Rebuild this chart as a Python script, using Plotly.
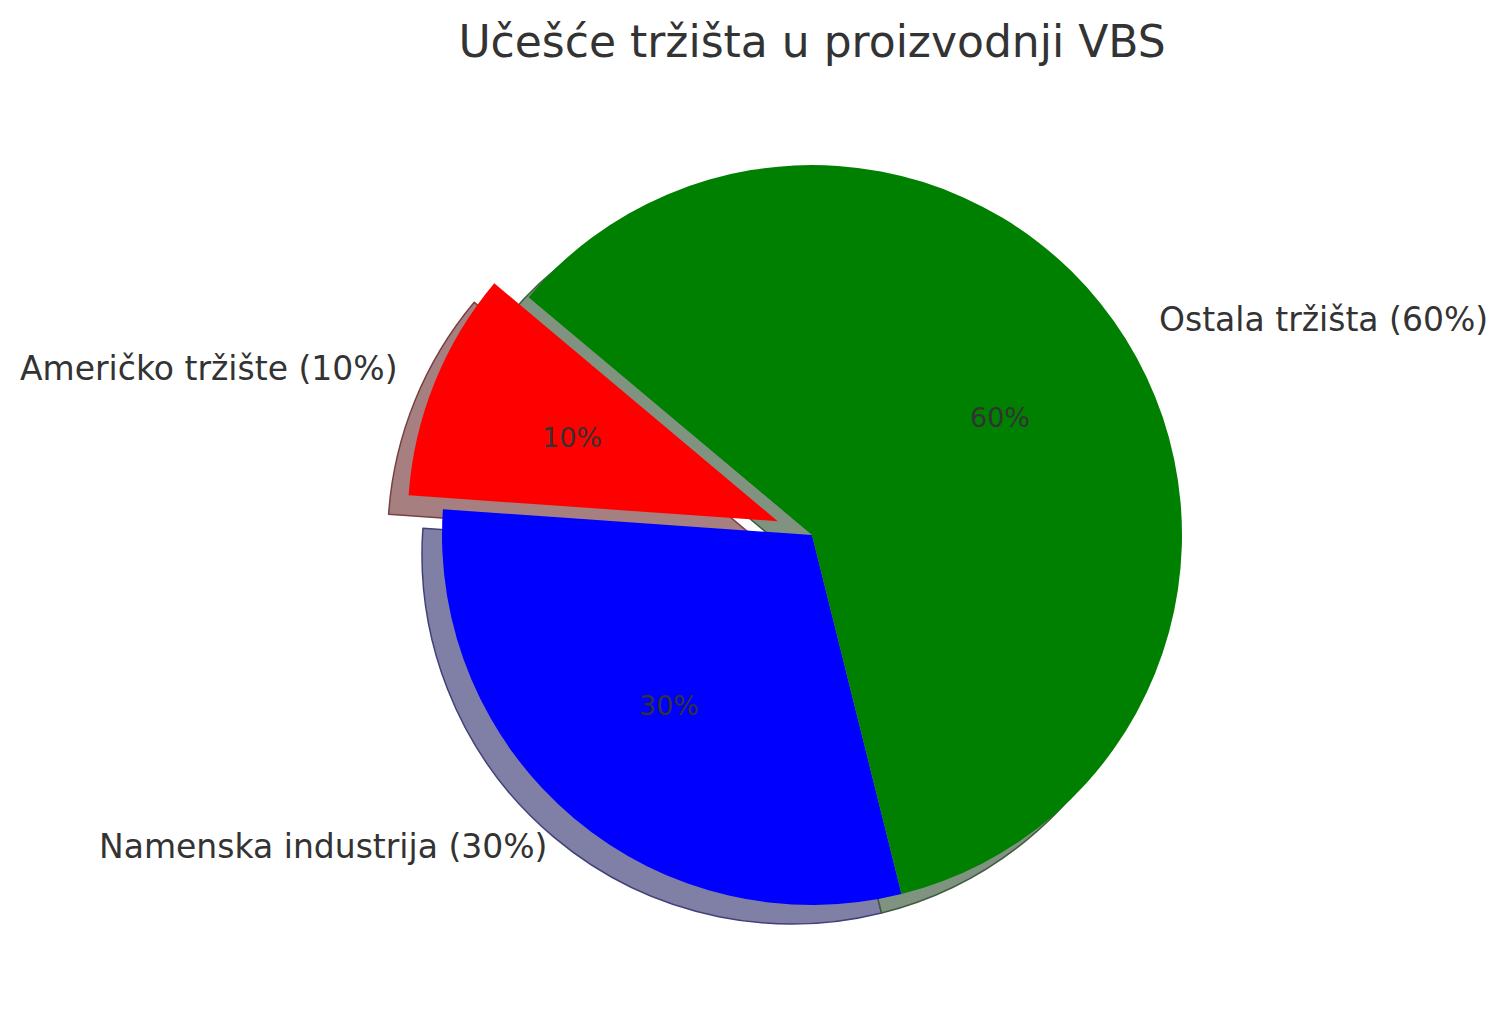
import math
import plotly.graph_objects as go

# data
labels = ["Američko tržište", "Namenska industrija", "Ostala tržišta"]
values = [10, 30, 60]
colors = ["red", "blue", "green"]
shadow_colors = ["#a68080", "#8080a6", "#809380"]
shadow_edges = ["#7a4040", "#40407a", "#405c40"]
explode = [0.1, 0, 0]
title = "Učešće tržišta u proizvodnji VBS"

W, H = 1509, 1016
cx, cy, r = 812, 535, 370          # pie centre / radius in px
start_angle = 140                   # matplotlib-style start, counterclockwise
shadow_dx, shadow_dy = -20, 19      # shadow offset in px
font = "DejaVu Sans"
text_color = "#333333"

half = r * (1 + max(explode))


def domain(dx=0, dy=0):
    x0 = (cx + dx - half) / W
    x1 = (cx + dx + half) / W
    y0 = 1 - (cy + dy + half) / H
    y1 = 1 - (cy + dy - half) / H
    return dict(x=[x0, x1], y=[y0, y1])


total = sum(values)
rotation = 90 - start_angle - values[0] / total * 360

fig = go.Figure()

# shadow pie
fig.add_trace(go.Pie(
    labels=labels, values=values, sort=False, direction="counterclockwise",
    rotation=rotation, pull=explode, textinfo="none", hoverinfo="skip",
    marker=dict(colors=shadow_colors, line=dict(color=shadow_edges, width=1.5)),
    domain=domain(shadow_dx, shadow_dy), showlegend=False,
))

# main pie
fig.add_trace(go.Pie(
    labels=labels, values=values, sort=False, direction="counterclockwise",
    rotation=rotation, pull=explode, textinfo="none",
    marker=dict(colors=colors, line=dict(width=0)),
    domain=domain(), showlegend=False,
))

# labels at 1.1 r and percentages at 0.6 r, like matplotlib
annotations = []
angle = start_angle
for lab, val, ex in zip(labels, values, explode):
    span = val / total * 360
    mid = math.radians(angle + span / 2)
    ox = cx + ex * r * math.cos(mid)
    oy = cy - ex * r * math.sin(mid)
    lx = ox + 1.1 * r * math.cos(mid)
    ly = oy - 1.1 * r * math.sin(mid)
    px = ox + 0.6 * r * math.cos(mid)
    py_ = oy - 0.6 * r * math.sin(mid)
    annotations.append(dict(
        x=lx / W, y=1 - ly / H, xref="paper", yref="paper",
        text=f"{lab} ({val}%)", showarrow=False,
        xanchor="left" if math.cos(mid) > 0 else "right", yanchor="middle",
        font=dict(family=font, size=33, color=text_color),
    ))
    annotations.append(dict(
        x=px / W, y=1 - py_ / H, xref="paper", yref="paper",
        text=f"{val}%", showarrow=False, xanchor="center", yanchor="middle",
        font=dict(family=font, size=27, color=text_color),
    ))
    angle += span

fig.update_layout(
    width=W, height=H,
    margin=dict(l=0, r=0, t=0, b=0),
    paper_bgcolor="white", plot_bgcolor="white",
    title=dict(text=title, x=812 / W, y=1 - 42 / H, xanchor="center", yanchor="middle",
               font=dict(family=font, size=44, color=text_color)),
    annotations=annotations,
)

fig.write_html("out.html", config={"displayModeBar": False},
               post_script="document.body.style.margin='0';")
